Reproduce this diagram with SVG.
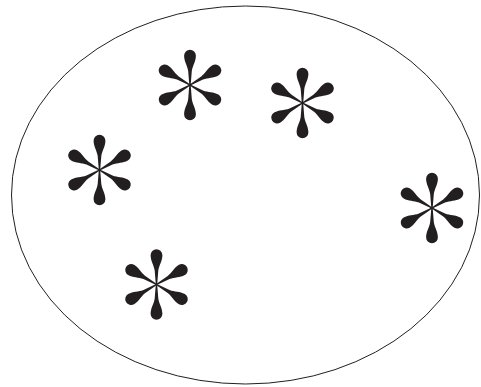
<svg xmlns="http://www.w3.org/2000/svg" xmlns:xlink="http://www.w3.org/1999/xlink" width="481" height="387" viewBox="0 0 481 387">
  <style>
    .set { fill: none; stroke: #231f20; stroke-width: 1; }
    .ast { fill: #231f20; }
  </style>
  <defs>
    <path id="spoke" d="M -0.7,0 L -1.8,-14 C -2.6,-19.5 -5.9,-23.5 -5.9,-29.3 A 5.9 5.9 0 0 1 5.9,-29.3 C 5.9,-23.5 2.6,-19.5 1.8,-14 L 0.7,0 Z"/>
    <g id="asterisk" class="ast">
      <use xlink:href="#spoke"/>
      <use xlink:href="#spoke" transform="rotate(60)"/>
      <use xlink:href="#spoke" transform="rotate(120)"/>
      <use xlink:href="#spoke" transform="rotate(180)"/>
      <use xlink:href="#spoke" transform="rotate(240)"/>
      <use xlink:href="#spoke" transform="rotate(300)"/>
    </g>
  </defs>
  <rect width="481" height="387" fill="#ffffff"/>
  <g id="set-boundary">
    <ellipse class="set" cx="245.5" cy="195" rx="234" ry="189"/>
  </g>
  <g id="element-1"><use xlink:href="#asterisk" x="190" y="85"/></g>
  <g id="element-2"><use xlink:href="#asterisk" x="302.5" y="103"/></g>
  <g id="element-3"><use xlink:href="#asterisk" x="99.5" y="170"/></g>
  <g id="element-4"><use xlink:href="#asterisk" x="432" y="208"/></g>
  <g id="element-5"><use xlink:href="#asterisk" x="156.5" y="284.5"/></g>
</svg>
